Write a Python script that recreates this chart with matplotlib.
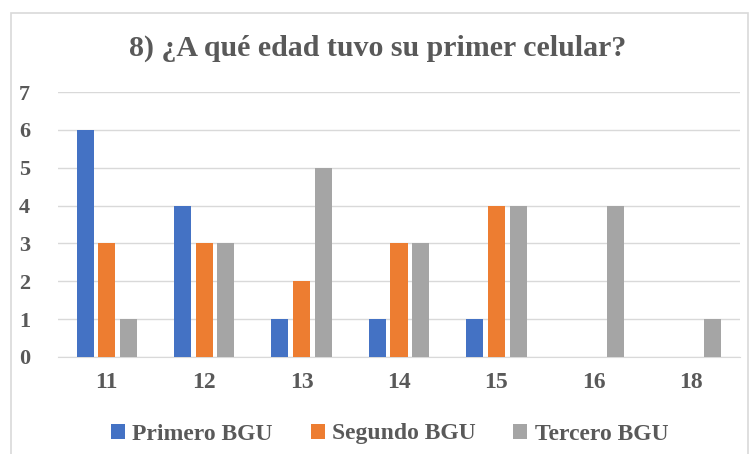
import matplotlib
matplotlib.use("Agg")
import matplotlib.pyplot as plt
from matplotlib.patches import Rectangle
import numpy as np

categories = ["11", "12", "13", "14", "15", "16", "18"]
primero = [6, 4, 1, 1, 1, 0, 0]
segundo = [3, 3, 2, 3, 4, 0, 0]
tercero = [1, 3, 5, 3, 4, 4, 1]
series_names = ["Primero BGU", "Segundo BGU", "Tercero BGU"]
colors = ["#4472C4", "#ED7D31", "#A5A5A5"]
title = "8) ¿A qué edad tuvo su primer celular?"

plt.rcParams['font.family'] = ['Liberation Serif', 'DejaVu Serif']
txt = "#595959"

fig = plt.figure(figsize=(7.55, 4.54), dpi=100)
fig.patches.append(Rectangle((11/755, -0.01), (748-11)/755, 1 - 13/454 + 0.01,
                             transform=fig.transFigure, fill=False,
                             edgecolor="#D9D9D9", linewidth=1.2))
ax = fig.add_axes([58/755, 1-357/454, (740-58)/755, (357-92)/454])

x = np.arange(len(categories))
w = 0.175
step = 0.222
for i, (vals, name, c) in enumerate(zip([primero, segundo, tercero], series_names, colors)):
    ax.bar(x + (i-1)*step, vals, width=w, color=c, label=name, zorder=3)

ax.set_xlim(-0.5, len(categories)-0.5)
ax.set_ylim(0, 7)
ax.set_yticks(range(8))
ax.set_xticks(x)
ax.set_xticklabels(categories)
ax.yaxis.grid(True, color="#D9D9D9", linewidth=1, zorder=0)
for s in ["top", "right", "left"]:
    ax.spines[s].set_visible(False)
ax.spines["bottom"].set_color("#D9D9D9")
ax.tick_params(length=0, labelcolor=txt)
ax.tick_params(axis='y', pad=20, labelsize=16)
ax.tick_params(axis='x', pad=11, labelsize=17)
for lab in ax.get_xticklabels() + ax.get_yticklabels():
    lab.set_fontweight("bold")

fig.text(0.5, 1-48/454, title, ha="center", va="center", fontsize=21.5,
         fontweight="bold", color=txt)

leg = fig.legend(loc="center", bbox_to_anchor=(0.516, 1-434/454), ncol=3, frameon=False,
                 prop={"size": 17, "weight": "bold"}, handlelength=0.6, handleheight=0.6,
                 columnspacing=1.6, handletextpad=0.3)
for t in leg.get_texts():
    t.set_color(txt)

fig.savefig("out.png", dpi=100)
